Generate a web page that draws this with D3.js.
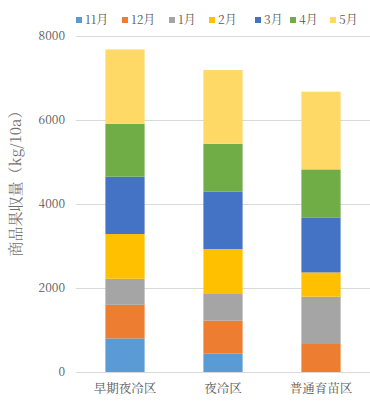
<!DOCTYPE html>
<html>
<head>
<meta charset="utf-8">
<script src="https://cdn.jsdelivr.net/npm/d3@7"></script>
<style>
  body { margin: 0; background: #fff; }
</style>
</head>
<body>
<div id="chart"></div>
<script>
var categories = ["早期夜冷区", "夜冷区", "普通育苗区"];
var months = ["11月", "12月", "1月", "2月", "3月", "4月", "5月"];
var colors = ["#5b9bd5", "#ed7d31", "#a5a5a5", "#ffc000", "#4472c4", "#70ad47", "#ffd966"];
// per month, values for each category
var nov = [800, 436, 0];
var dec = [800, 785, 667];
var jan = [620, 636, 1126];
var feb = [1065, 1072, 578];
var mar = [1365, 1370, 1310];
var apr = [1260, 1136, 1143];
var may = [1770, 1754, 1850];
var yTicks = [0, 2000, 4000, 6000, 8000];

var series = [nov, dec, jan, feb, mar, apr, may];
var FONT = '"Noto Serif CJK JP", "Liberation Serif", "DejaVu Serif", "Noto Sans CJK JP", serif';

var width = 370, height = 410,
    margin = {top: 36, right: 0, bottom: 38, left: 76};

var svg = d3.select("#chart").append("svg")
    .attr("width", width).attr("height", height);

var rows = categories.map(function(c, i) {
    var r = {cat: c};
    months.forEach(function(m, j) { r[m] = series[j][i]; });
    return r;
});
var stacked = d3.stack().keys(months)(rows);

var x = d3.scaleBand()
    .domain(categories)
    .range([margin.left, width - margin.right])
    .paddingInner(0.6)
    .paddingOuter(0.3);

var y = d3.scaleLinear()
    .domain([0, 8000])
    .range([height - margin.bottom, margin.top]);

// gridlines
svg.append("g").selectAll("line")
    .data(yTicks)
    .join("line")
    .attr("x1", margin.left).attr("x2", width - margin.right)
    .attr("y1", function(d) { return Math.round(y(d)) + 0.5; })
    .attr("y2", function(d) { return Math.round(y(d)) + 0.5; })
    .attr("stroke", "#d9d9d9");

// bars
svg.append("g").selectAll("g")
    .data(stacked)
    .join("g")
    .attr("fill", function(d, i) { return colors[i]; })
    .selectAll("rect")
    .data(function(d) { return d; })
    .join("rect")
    .attr("x", function(d) { return x(d.data.cat); })
    .attr("width", x.bandwidth())
    .attr("y", function(d) { return y(d[1]); })
    .attr("height", function(d) { return y(d[0]) - y(d[1]); });

// y axis
var yAxis = svg.append("g")
    .attr("transform", "translate(" + (margin.left - 8) + ",0)")
    .call(d3.axisLeft(y).tickValues(yTicks).tickSize(0).tickFormat(d3.format("d")));
yAxis.select(".domain").remove();
yAxis.selectAll("text")
    .style("font-size", "12px").style("font-family", FONT).attr("fill", "#595959");

// x axis
var xAxis = svg.append("g")
    .attr("transform", "translate(0," + (height - margin.bottom + 9) + ")")
    .call(d3.axisBottom(x).tickSize(0));
xAxis.select(".domain").remove();
xAxis.selectAll("text")
    .style("font-size", "12.5px").style("font-family", FONT).attr("fill", "#595959");

// y title
svg.append("text")
    .attr("transform", "translate(21,180) rotate(-90)")
    .attr("text-anchor", "middle")
    .style("font-size", "15px").style("font-family", FONT)
    .attr("fill", "#6f6f6f")
    .text("商品果収量（kg/10a）");

// legend
var legendX = [79, 125, 172, 212, 258, 293, 333];
var legend = svg.append("g").selectAll("g")
    .data(months)
    .join("g")
    .attr("transform", function(d, i) { return "translate(" + legendX[i] + ",20)"; });
legend.append("rect")
    .attr("x", -3).attr("y", -3)
    .attr("width", 6).attr("height", 6)
    .attr("fill", function(d, i) { return colors[i]; });
legend.append("text")
    .attr("x", 6).attr("dy", "0.35em")
    .style("font-size", "12px").style("font-family", FONT)
    .attr("fill", "#595959")
    .text(function(d) { return d; });
</script>
</body>
</html>
